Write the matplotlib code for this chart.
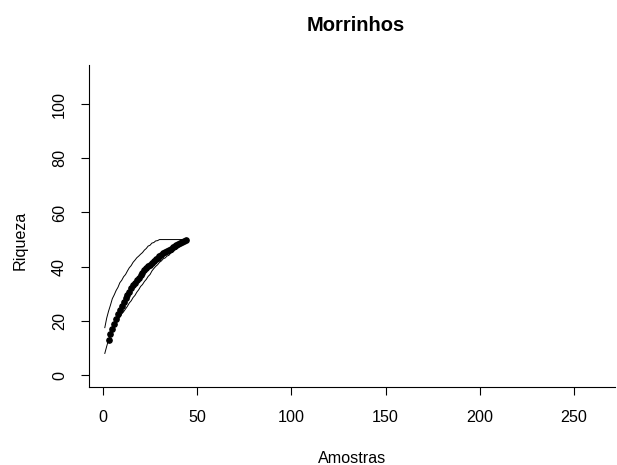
import numpy as np
import matplotlib.pyplot as plt

plt.rcParams['font.family'] = ['Liberation Sans', 'DejaVu Sans']

# rarefaction curve for Morrinhos: mean richness (points) and the confidence band (lines)
amostras = list(range(1, 45))
riqueza_sup = [17.5, 21.0, 23.6, 25.8, 28.2, 29.6, 31.2, 32.4, 34.1, 35.0,
               36.3, 37.1, 38.4, 39.6, 40.4, 41.6, 42.4, 43.3, 43.9, 44.6,
               45.2, 46.1, 46.7, 47.6, 47.9, 48.7, 48.9, 49.5, 49.6, 50.0,
               50.0, 50.0, 50.0, 50.0, 50.0, 50.0, 50.0, 50.0, 50.0, 50.0,
               50.0, 50.0, 50.0, 50.0]
riqueza_inf = [8.0, 10.6, 13.0, 14.6, 16.1, 17.6, 19.0, 20.4, 21.4, 22.6,
               23.4, 24.4, 25.4, 26.6, 27.4, 28.6, 29.4, 30.6, 31.5, 32.7,
               33.4, 34.5, 35.3, 36.4, 37.1, 38.4, 39.3, 40.1, 40.7, 41.6,
               42.1, 42.9, 43.2, 43.9, 44.2, 45.0, 45.3, 46.1, 46.4, 47.1,
               47.5, 48.3, 48.8, 49.8]
amostras_media = list(range(3, 45))
riqueza_media = [13.0, 15.0, 17.0, 19.0, 20.8, 22.5, 24.0, 25.5, 27.0, 28.3,
                 29.6, 30.8, 32.0, 33.1, 34.1, 35.1, 36.0, 36.9, 37.8, 38.6,
                 39.4, 40.1, 40.8, 41.5, 42.1, 42.7, 43.3, 43.9, 44.4, 44.9,
                 45.4, 45.8, 46.3, 46.7, 47.1, 47.5, 47.9, 48.3, 48.7, 49.1,
                 49.5, 50.0]

xticks = [0, 50, 100, 150, 200, 250]
yticks = [0, 20, 40, 60, 80, 100]

fig = plt.figure(figsize=(6.17, 4.65), dpi=100)
ax = fig.add_axes([0.1442, 0.1677, 0.8526, 0.6925])

ax.plot(amostras, riqueza_sup, color='black', lw=0.7)
ax.plot(amostras, riqueza_inf, color='black', lw=0.7)
ax.plot(amostras_media, riqueza_media, 'o', color='black', ms=3.8, mec='black')

ax.set_xlim(-7.4, 271.8)
ax.set_ylim(-4.4, 114.4)
ax.set_xticks(xticks)
ax.set_yticks(yticks)
ax.spines['top'].set_visible(False)
ax.spines['right'].set_visible(False)
ax.tick_params(length=6, width=0.8, labelsize=11.6, colors='black')
ax.tick_params(axis='x', pad=10.3)
ax.tick_params(axis='y', pad=9.8, labelrotation=90)
for lab in ax.get_yticklabels():
    lab.set_va('center')

fig.text(0.577, 0.946, 'Morrinhos', ha='center', va='center',
         fontsize=14.5, fontweight='bold')
fig.text(0.5705, 0.015, 'Amostras', ha='center', va='center', fontsize=11.6)
fig.text(0.032, 0.484, 'Riqueza', ha='center', va='center', rotation=90,
         fontsize=11.6)

fig.savefig('out.png', dpi=100)
